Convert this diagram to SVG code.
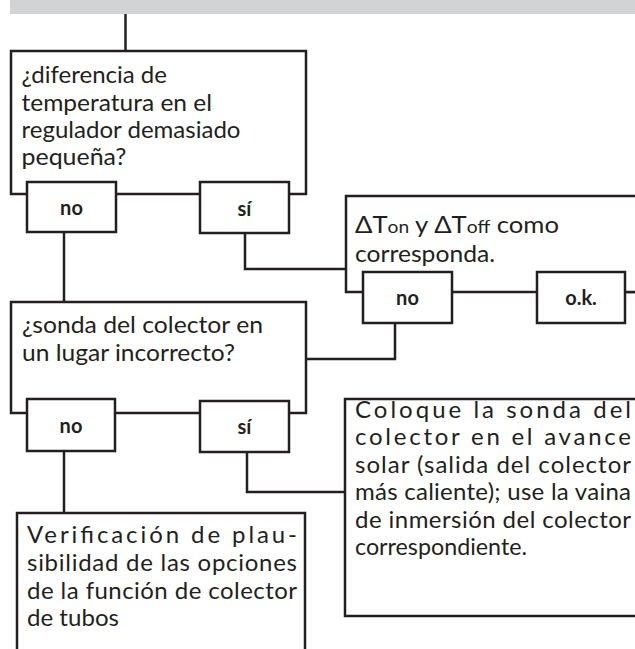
<svg xmlns="http://www.w3.org/2000/svg" width="635" height="649" viewBox="0 0 635 649">
<style>
.box{fill:#fff;stroke:#231f20;stroke-width:2.5}
.conn{fill:none;stroke:#231f20;stroke-width:2.5}
.t{font-family:Lato,"Open Sans","Liberation Sans",sans-serif;font-size:24px;fill:#231f20}
.b{font-family:Lato,"Open Sans","Liberation Sans",sans-serif;font-size:20px;font-weight:bold;fill:#231f20;text-anchor:middle}
.s{font-size:18px}
</style>
<rect x="10" y="0" width="625" height="14" fill="#d1d3d4"/>
<g id="connectors">
<path class="conn" d="M125.5,14 V51"/>
<path class="conn" d="M64,232 V302"/>
<path class="conn" d="M245,233 V269 H346"/>
<path class="conn" d="M395,323 V359 H306"/>
<path class="conn" d="M625,292 H636"/>
<path class="conn" d="M64,451 V513"/>
<path class="conn" d="M247,452 V492 H345"/>
</g>
<g id="q1">
<rect class="box" x="11" y="51" width="295" height="143"/>
<text class="t" x="21.5" y="83" textLength="145.5" lengthAdjust="spacingAndGlyphs">¿diferencia de</text>
<text class="t" x="21.5" y="111" textLength="190.5" lengthAdjust="spacingAndGlyphs">temperatura en el</text>
<text class="t" x="21.5" y="138" textLength="219" lengthAdjust="spacingAndGlyphs">regulador demasiado</text>
<text class="t" x="21.5" y="165" textLength="105" lengthAdjust="spacingAndGlyphs">pequeña?</text>
</g>
<g id="q1-no">
<rect class="box" x="27" y="182" width="89" height="50"/>
<text class="b" x="71.5" y="214.5">no</text>
</g>
<g id="q1-si">
<rect class="box" x="200" y="182" width="89" height="51"/>
<text class="b" x="244.5" y="215.5">sí</text>
</g>
<g id="dt">
<rect class="box" x="346" y="196" width="300" height="96"/>
<text class="t" x="355" y="233" textLength="204" lengthAdjust="spacingAndGlyphs">ΔT<tspan class="s">on</tspan> y ΔT<tspan class="s">off</tspan> como</text>
<text class="t" x="355" y="261.5" textLength="140" lengthAdjust="spacingAndGlyphs">corresponda.</text>
</g>
<g id="dt-no">
<rect class="box" x="363" y="272" width="89" height="51"/>
<text class="b" x="407.5" y="304.5">no</text>
</g>
<g id="ok">
<rect class="box" x="537" y="272" width="88" height="51"/>
<text class="b" x="581" y="304.5">o.k.</text>
</g>
<g id="q2">
<rect class="box" x="11" y="302" width="295" height="111"/>
<text class="t" x="22" y="333" textLength="241" lengthAdjust="spacingAndGlyphs">¿sonda del colector en</text>
<text class="t" x="22" y="360.5" textLength="213" lengthAdjust="spacingAndGlyphs">un lugar incorrecto?</text>
</g>
<g id="q2-no">
<rect class="box" x="27" y="399" width="88" height="52"/>
<text class="b" x="71" y="432.5">no</text>
</g>
<g id="q2-si">
<rect class="box" x="200" y="401" width="89" height="51"/>
<text class="b" x="244.5" y="434">sí</text>
</g>
<g id="fix">
<rect class="box" x="345" y="399" width="300" height="217"/>
<text class="t" x="355" y="417.5" textLength="276" lengthAdjust="spacing">Coloque la sonda del</text>
<text class="t" x="355" y="445" textLength="276" lengthAdjust="spacing">colector en el avance</text>
<text class="t" x="355" y="472.5" textLength="276" lengthAdjust="spacing">solar (salida del colector</text>
<text class="t" x="355" y="500" textLength="276" lengthAdjust="spacing">más caliente); use la vaina</text>
<text class="t" x="355" y="527.5" textLength="276" lengthAdjust="spacing">de inmersión del colector</text>
<text class="t" x="355" y="555" textLength="172" lengthAdjust="spacingAndGlyphs">correspondiente.</text>
</g>
<g id="check">
<rect class="box" x="17" y="513" width="288" height="160"/>
<text class="t" x="27" y="543" textLength="270" lengthAdjust="spacing">Verificación de plau-</text>
<text class="t" x="27" y="571" textLength="270" lengthAdjust="spacing">sibilidad de las opciones</text>
<text class="t" x="27" y="598.5" textLength="270" lengthAdjust="spacing">de la función de colector</text>
<text class="t" x="27" y="626" textLength="92" lengthAdjust="spacingAndGlyphs">de tubos</text>
</g>
</svg>
